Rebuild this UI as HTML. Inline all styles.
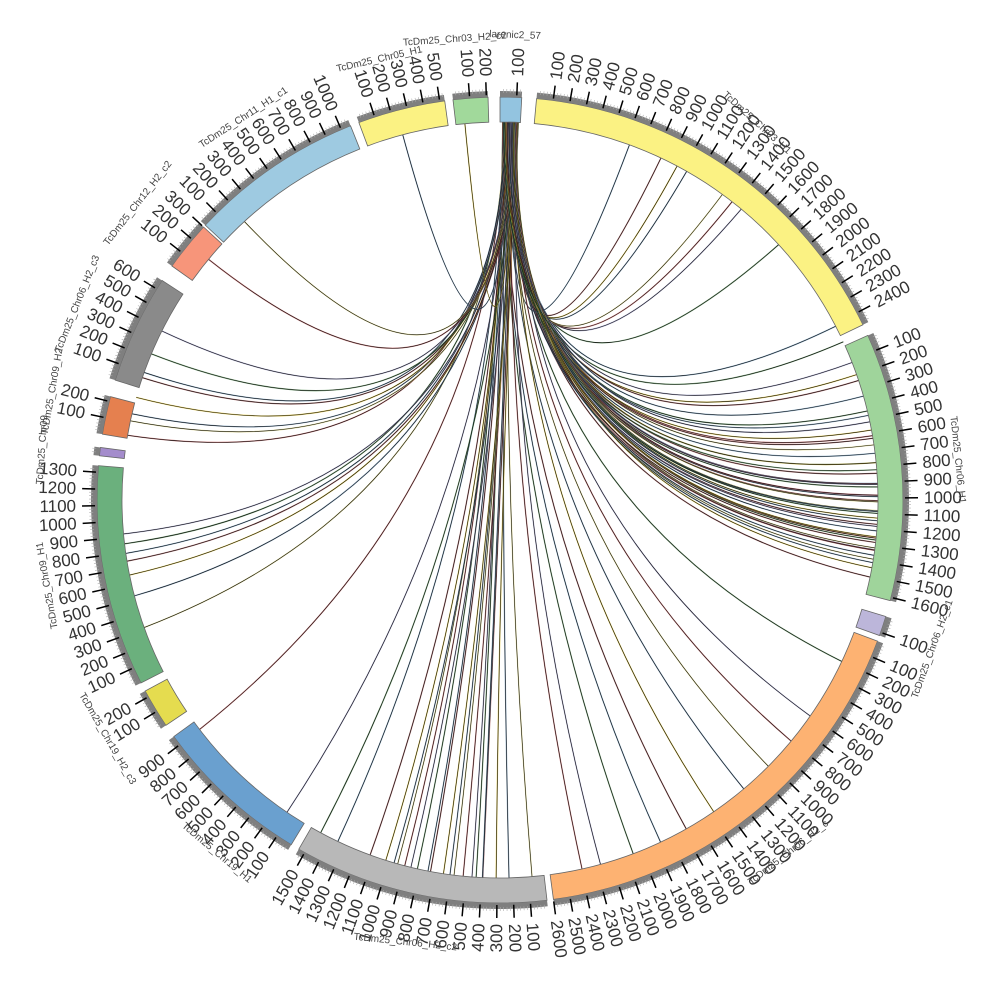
<!DOCTYPE html>
<html><head><meta charset="utf-8">
<style>
html,body{margin:0;padding:0;background:#fff;}
svg{display:block;font-family:"Liberation Sans",sans-serif;}
</style></head>
<body>
<svg id="s" width="1000" height="1000" viewBox="0 0 1000 1000" xmlns="http://www.w3.org/2000/svg">
<rect width="1000" height="1000" fill="#fff"/>
<g id="links"></g>
<g id="segs"></g>
<g id="ticks"></g>
<g id="names" font-size="10" fill="#444">
<text transform="translate(515,38) rotate(2)" text-anchor="middle">larenic2_57</text>
<text transform="translate(455,42) rotate(-4)" text-anchor="middle">TcDm25_Chr03_H2_c2</text>
<text transform="translate(380,62) rotate(-13)" text-anchor="middle">TcDm25_Chr05_H1</text>
<text transform="translate(245,120) rotate(-33)" text-anchor="middle">TcDm25_Chr11_H1_c1</text>
<text transform="translate(140,205) rotate(-52)" text-anchor="middle">TcDm25_Chr12_H2_c2</text>
<text transform="translate(80,305) rotate(-68)" text-anchor="middle">TcDm25_Chr06_H2_c3</text>
<text transform="translate(55,392) rotate(-80)" text-anchor="middle">TcDm25_Chr09_H2</text>
<text transform="translate(45,450) rotate(-86)" text-anchor="middle">TcDm25_Chr09</text>
<text transform="translate(50,585) rotate(-100)" text-anchor="middle" >TcDm25_Chr09_H1</text>
<text transform="translate(105,740) rotate(60)" text-anchor="middle">TcDm25_Chr19_H2_c3</text>
<text transform="translate(215,855) rotate(40)" text-anchor="middle">TcDm25_Chr19_H1</text>
<text transform="translate(405,945) rotate(6)" text-anchor="middle">TcDm25_Chr06_H2_c2</text>
<text transform="translate(790,855) rotate(-38)" text-anchor="middle">TcDm25_Chr06_H2_c</text>
<text transform="translate(935,650) rotate(-70)" text-anchor="middle">TcDm25_Chr06_H2_c1</text>
<text transform="translate(955,460) rotate(84)" text-anchor="middle">TcDm25_Chr06_H1</text>
<text transform="translate(755,125) rotate(42)" text-anchor="middle">TcDm25_Chr03_H1</text>
</g>
</svg>
<script>
(function(){
var NS="http://www.w3.org/2000/svg",cx=500,cy=500,R0=378,R1=403,K=0.0238;
function P(a,r){var t=a*Math.PI/180;return [cx+r*Math.sin(t),cy-r*Math.cos(t)];}
function el(n,at,p){var e=document.createElementNS(NS,n);for(var k in at)e.setAttribute(k,at[k]);p.appendChild(e);return e;}
var segs=[[0,130,"#93c4e0"],[5.2,2480,"#fbf283"],[65.9,1620,"#9fd49b"],[106.8,120,"#bcb6da"],[110.5,2600,"#fdb272"],[173.3,1540,"#b8b8b8"],[211.2,960,"#6aa0cf"],[236,240,"#e5dc4f"],[243,1340,"#6bb07d"],[276.3,50,"#a48ccc"],[279.4,230,"#e5804f"],[287.3,660,"#8a8a8a"],[305.5,300,"#f7957a"],[313,1060,"#9ecae1"],[339.5,530,"#fbf283"],[353.3,210,"#a1d99b"]];
var G=document.getElementById("segs"),T=document.getElementById("ticks"),L=document.getElementById("links");
function arc(a0,a1,r0,r1){var p1=P(a0,r1),p2=P(a1,r1),p3=P(a1,r0),p4=P(a0,r0),lg=(a1-a0)>180?1:0;
return "M"+p1+"A"+r1+","+r1+" 0 "+lg+" 1 "+p2+"L"+p3+"A"+r0+","+r0+" 0 "+lg+" 0 "+p4+"Z";}
var seed=7;function rnd(){seed=(seed*16807)%2147483647;return seed/2147483647;}
var tg=[70,72,74,76,78,80,82,84,85,86,87,88,89,90,91,92,93,94,95,96,97,98,99,100,101,102,62,48,40,38,36,30,28,25,20,115,125,130,135,140,145,150,155,160,165,168,175,178,180,182,183,184,185,186,187,188,189,190,191,192,193,194,195,196,198,200,205,208,215,232,250,256,258,260,262,263,265,280,282,283,286,289,290,292,296,310,318,345,354,88,90,92,94,96,98,77,79,81,83,85,87,89,91,93,95,97,99,66,68];
var cols=["#e0c020","#9a4040","#5a8ab0","#4a8a4a","#9090c0","#c05050","#d8d070","#608ab0"];
tg.forEach(function(a,i){var s=0.4+rnd()*2.4,t=a+(rnd()-0.5)*1.5;var p0=P(s,R0),p3=P(t,R0);
var d="M"+p0+"Q"+cx+","+(cy-10)+" "+p3;
el("path",{d:d,fill:"none",stroke:cols[i%cols.length],"stroke-width":1.3,"stroke-opacity":0.7},L);
el("path",{d:d,fill:"none",stroke:"#111","stroke-width":0.6},L);});
segs.forEach(function(s){var a0=s[0],a1=s[0]+s[1]*K;
el("path",{d:arc(a0,a1,R0,R1),fill:s[2],stroke:"#666","stroke-width":0.8},G);
el("path",{d:arc(a0,a1,R1,R1+6),fill:"#7f7f7f"},G);
for(var v=20;v<s[1];v+=20){var a=a0+v*K;var q1=P(a,R1+4),q2=P(a,R1+8);el("line",{x1:q1[0],y1:q1[1],x2:q2[0],y2:q2[1],stroke:"#aaa","stroke-width":0.6},T);}
for(var v=100;v<=s[1];v+=100){var a=a0+v*K;var q1=P(a,R1+2),q2=P(a,R1+15);
el("line",{x1:q1[0],y1:q1[1],x2:q2[0],y2:q2[1],stroke:"#000","stroke-width":1.5},T);
var q=P(a,R1+21),tx;var na=((a%360)+360)%360;
if(na<180){tx=el("text",{transform:"translate("+q[0]+","+q[1]+") rotate("+(a-90)+")","text-anchor":"start","dominant-baseline":"central","font-size":17,fill:"#333"},T);}
else{tx=el("text",{transform:"translate("+q[0]+","+q[1]+") rotate("+(a+90)+")","text-anchor":"end","dominant-baseline":"central","font-size":17,fill:"#333"},T);}
tx.textContent=String(v);}
});
})();
</script>
</body></html>
